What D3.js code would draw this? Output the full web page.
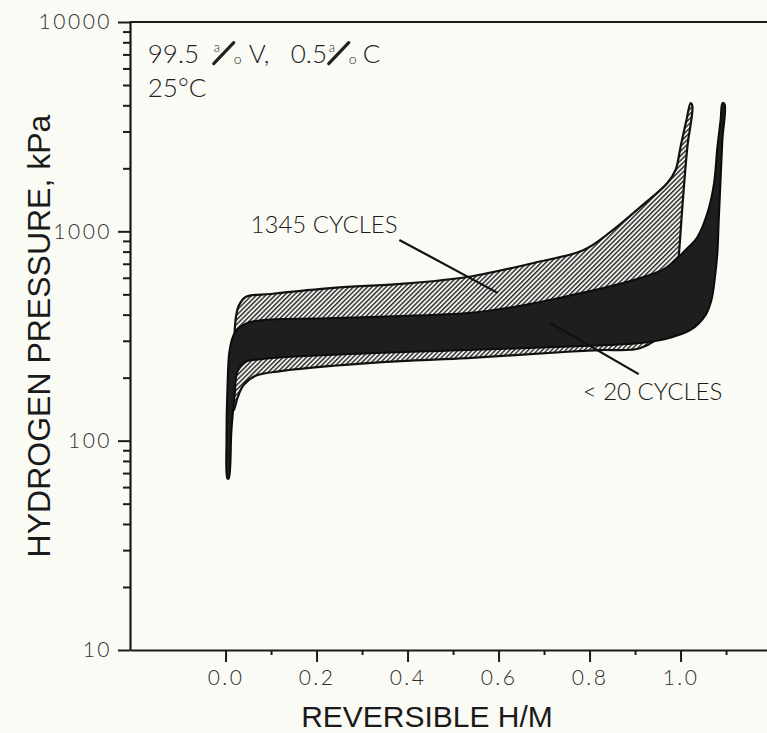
<!DOCTYPE html>
<html>
<head>
<meta charset="utf-8">
<script src="https://cdn.jsdelivr.net/npm/d3@7"></script>
<style>
  body { margin: 0; background: #fbfbf6; }
  svg { display: block; }
</style>
</head>
<body>
<div id="chart"></div>
<script>
// 1345 cycles loop (hatched): absorption up, then desorption down
const hatchAbsX = [0.016, 0.018, 0.022, 0.029, 0.044, 0.099, 0.237, 0.385, 0.532, 0.677, 0.787, 0.846, 0.912, 0.971, 0.989, 1.000, 1.013, 1.022];
const hatchAbsP = [140, 243, 378, 441, 486, 502, 537, 561, 605, 706, 815, 993, 1309, 1702, 1963, 2531, 3404, 4100];
const hatchDesX = [1.026, 1.015, 1.004, 0.996, 0.989, 0.967, 0.912, 0.824, 0.752, 0.532, 0.385, 0.237, 0.121, 0.066, 0.040, 0.027, 0.018];
const hatchDesP = [3970, 2531, 1309, 755, 525, 338, 277, 271, 266, 248, 240, 228, 215, 204, 185, 162, 140];

// < 20 cycles loop (black)
const blackAbsX = [0.004, 0.002, 0.004, 0.009, 0.020, 0.048, 0.237, 0.532, 0.648, 0.752, 0.897, 0.967, 1.011, 1.037, 1.059, 1.073, 1.081, 1.088, 1.092];
const blackAbsP = [66, 101, 175, 271, 327, 365, 385, 407, 441, 491, 586, 668, 815, 940, 1224, 1667, 2531, 3404, 4100];
const blackDesX = [1.097, 1.092, 1.088, 1.084, 1.081, 1.075, 1.068, 1.055, 1.022, 0.967, 0.912, 0.787, 0.532, 0.237, 0.077, 0.044, 0.026, 0.020, 0.013, 0.007];
const blackDesP = [4050, 2735, 1757, 1133, 789, 586, 470, 398, 338, 306, 293, 283, 271, 257, 245, 238, 213, 165, 112, 66];

const xMajor = [0.0, 0.2, 0.4, 0.6, 0.8, 1.0];
const xMinor = [0.1, 0.3, 0.5, 0.7, 0.9, 1.1];
const yMajor = [10, 100, 1000, 10000];

const width = 767, height = 733;
const x = d3.scaleLinear().domain([-0.21, 1.19]).range([130, 767]);
const y = d3.scaleLog().domain([10, 10000]).range([650, 22]);

const svg = d3.select('#chart').append('svg')
  .attr('width', width)
  .attr('height', height)
  .style('background', '#fbfbf6');

// hatch pattern for the 1345 cycles band
const defs = svg.append('defs');
const pat = defs.append('pattern')
  .attr('id', 'hatch')
  .attr('patternUnits', 'userSpaceOnUse')
  .attr('width', 3.3)
  .attr('height', 3.3)
  .attr('patternTransform', 'rotate(45)');
pat.append('rect').attr('width', 3.3).attr('height', 3.3).attr('fill', '#f2f2ee');
pat.append('rect').attr('width', 1.4).attr('height', 3.3).attr('fill', '#2a2a2a');

const loop = d3.line()
  .x(d => x(d[0]))
  .y(d => y(d[1]))
  .curve(d3.curveCatmullRomClosed.alpha(0.5));

const hatchPts = hatchAbsX.map((v, i) => [v, hatchAbsP[i]])
  .concat(hatchDesX.map((v, i) => [v, hatchDesP[i]]));
const blackPts = blackAbsX.map((v, i) => [v, blackAbsP[i]])
  .concat(blackDesX.map((v, i) => [v, blackDesP[i]]));

svg.append('path')
  .attr('d', loop(hatchPts))
  .attr('fill', 'url(#hatch)')
  .attr('stroke', '#111')
  .attr('stroke-width', 2.2)
  .attr('stroke-linejoin', 'round');

svg.append('path')
  .attr('d', loop(blackPts))
  .attr('fill', '#1e1e1e')
  .attr('stroke', '#0c0c0c')
  .attr('stroke-width', 2)
  .attr('stroke-linejoin', 'round');

// axes
const tickFont = 'Lato, "DejaVu Sans", sans-serif';

const yMinorVals = [];
[10, 100, 1000].forEach(d => { for (let k = 2; k <= 9; k++) yMinorVals.push(d * k); });

svg.append('g')
  .attr('transform', 'translate(130,0)')
  .call(d3.axisLeft(y).tickValues(yMinorVals).tickSize(7).tickFormat(''))
  .call(g => g.select('.domain').remove());
svg.append('g')
  .attr('transform', 'translate(130,0)')
  .call(d3.axisLeft(y).tickValues(yMajor).tickSize(12).tickSizeOuter(0).tickPadding(6).tickFormat(d3.format('d')));

svg.append('g')
  .attr('transform', 'translate(0,650)')
  .call(d3.axisBottom(x).tickValues(xMinor).tickSize(5).tickFormat(''))
  .call(g => g.select('.domain').remove());
svg.append('g')
  .attr('transform', 'translate(0,650)')
  .call(d3.axisBottom(x).tickValues(xMajor).tickSize(12).tickSizeOuter(0).tickPadding(8).tickFormat(d3.format('.1f')));

svg.selectAll('.tick line').attr('stroke', '#1a1a1a').attr('stroke-width', 2);
svg.selectAll('.domain').attr('stroke', '#1a1a1a').attr('stroke-width', 2.2);
svg.selectAll('.tick text')
  .attr('font-family', tickFont)
  .attr('font-weight', 300)
  .attr('font-size', 21)
  .attr('letter-spacing', 2.5)
  .attr('fill', '#2e2e2e');

// top frame line
svg.append('line')
  .attr('x1', x(-0.21)).attr('x2', x(1.19))
  .attr('y1', y(10000)).attr('y2', y(10000))
  .attr('stroke', '#1a1a1a').attr('stroke-width', 2.2);

// axis titles
svg.append('text')
  .attr('x', 427)
  .attr('y', 727)
  .attr('text-anchor', 'middle')
  .attr('font-family', '"Liberation Sans Narrow", "Liberation Sans", sans-serif')
  .attr('font-size', 30)
  .attr('fill', '#1a1a1a')
  .text('REVERSIBLE H/M');

svg.append('text')
  .attr('transform', 'translate(50,' + 336 + ') rotate(-90)')
  .attr('text-anchor', 'middle')
  .attr('font-family', '"Liberation Sans Narrow", "Liberation Sans", sans-serif')
  .attr('font-size', 32)
  .attr('fill', '#1a1a1a')
  .text('HYDROGEN PRESSURE, kPa');

// composition note: "99.5 a/o V, 0.5 a/o C" with the atom-percent sign
const noteX = x(-0.171), noteY = y(6400);
const noteParts = [
  { t: '99.5', dx: 0 },
  { t: 'V,', dx: 101 },
  { t: '0.5', dx: 143 },
  { t: 'C', dx: 215 }
];
const atomSigns = [66, 181];
const noteStyle = s => s
  .attr('font-family', tickFont)
  .attr('font-weight', 300)
  .attr('fill', '#222');

noteParts.forEach(p => {
  svg.append('text')
    .attr('x', noteX + p.dx)
    .attr('y', noteY)
    .attr('font-size', 26)
    .call(noteStyle)
    .text(p.t);
});
atomSigns.forEach(dx => {
  svg.append('text')
    .attr('x', noteX + dx)
    .attr('y', noteY - 11)
    .attr('font-size', 13)
    .call(noteStyle)
    .text('a');
  svg.append('line')
    .attr('x1', noteX + dx).attr('y1', noteY + 1)
    .attr('x2', noteX + dx + 20).attr('y2', noteY - 20)
    .attr('stroke', '#222').attr('stroke-width', 3.2)
    .attr('stroke-linecap', 'round');
  svg.append('text')
    .attr('x', noteX + dx + 20)
    .attr('y', noteY + 1)
    .attr('font-size', 14)
    .call(noteStyle)
    .text('o');
});

svg.append('text')
  .attr('x', noteX)
  .attr('y', y(4400))
  .attr('font-size', 26)
  .call(noteStyle)
  .text('25°C');

// loop labels with leader lines
const labels = [
  { text: '1345 CYCLES', x: 0.055, p: 982, lx: [0.382, 0.598], lp: [910, 508] },
  { text: '< 20 CYCLES', x: 0.785, p: 156, lx: [0.714, 0.908], lp: [365, 208] }
];
labels.forEach(l => {
  svg.append('line')
    .attr('x1', x(l.lx[0])).attr('y1', y(l.lp[0]))
    .attr('x2', x(l.lx[1])).attr('y2', y(l.lp[1]))
    .attr('stroke', '#111').attr('stroke-width', 2.2);
  svg.append('text')
    .attr('x', x(l.x))
    .attr('y', y(l.p))
    .attr('font-family', tickFont)
    .attr('font-weight', 300)
    .attr('font-size', 24)
    .attr('fill', '#1a1a1a')
    .text(l.text);
});
</script>
</body>
</html>
